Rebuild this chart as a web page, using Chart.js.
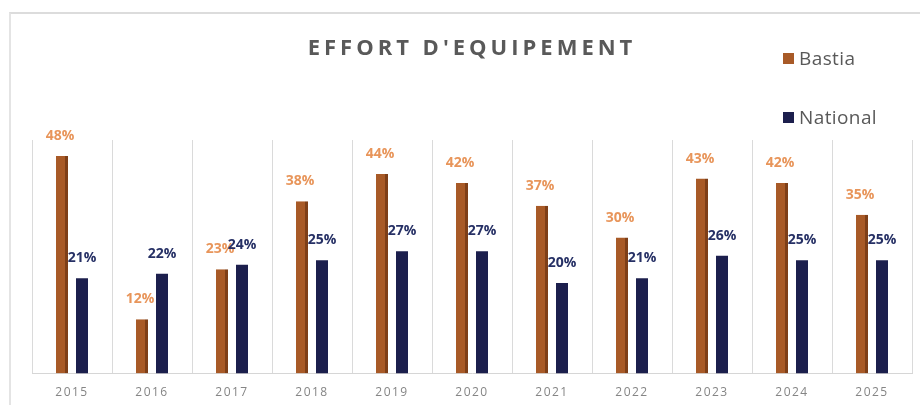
<!DOCTYPE html>
<html>
<head>
<meta charset="utf-8">
<script src="https://cdn.jsdelivr.net/npm/chart.js@4/dist/chart.umd.min.js"></script>
<style>
  html, body { margin: 0; padding: 0; background: #ffffff; }
  #wrap { position: relative; width: 920px; height: 405px; overflow: hidden; }
  #frame { position: absolute; left: 9px; top: 12px; width: 950px; height: 450px;
           border-top: 2px solid #dcdcdc; border-left: 2px solid #e4e4e4; }
  #title { position: absolute; left: 0; width: 944px; top: 31px; text-align: center;
           font: bold 22px "Open Sans", sans-serif; letter-spacing: 4px; color: #595959; }
  .leg { position: absolute; left: 783px; font: 19px "Open Sans", sans-serif; color: #595959;
         letter-spacing: 0.4px; white-space: nowrap; }
  .leg span { display: inline-block; width: 11px; height: 11px; margin-right: 5px; vertical-align: 1px; }
  canvas { position: absolute; left: 0; top: 0; }
</style>
</head>
<body>
<div id="wrap">
  <div id="frame"></div>
  <canvas id="c" width="920" height="417"></canvas>
  <div id="title">EFFORT D'EQUIPEMENT</div>
  <div id="legend"></div>
</div>
<script>
// Effort d'équipement, Bastia vs national, in percent
const years = ['2015', '2016', '2017', '2018', '2019', '2020', '2021', '2022', '2023', '2024', '2025'];
const bastia = [48, 12, 23, 38, 44, 42, 37, 30, 43, 42, 35];
const national = [21, 22, 24, 25, 27, 27, 20, 21, 26, 25, 25];
const seriesNames = ['Bastia', 'National'];

const barColors = ['#a85a27', '#1c1f4d'];
const labelColors = ['#e8955a', '#263065'];

// spaced-out year labels on the category axis
const tickSpacing = {
  id: 'tickSpacing',
  beforeDraw(chart) { chart.ctx.letterSpacing = '1.5px'; },
  beforeDatasetsDraw(chart) { chart.ctx.letterSpacing = '0px'; }
};

// percentage labels drawn above each bar
const valueLabels = {
  id: 'valueLabels',
  afterDatasetsDraw(chart) {
    const ctx = chart.ctx;
    ctx.save();
    ctx.font = 'bold 14px "Open Sans", sans-serif';
    ctx.textAlign = 'center';
    ctx.textBaseline = 'middle';
    chart.data.datasets.forEach((ds, i) => {
      const meta = chart.getDatasetMeta(i);
      ctx.fillStyle = labelColors[i];
      meta.data.forEach((bar, j) => {
        ctx.fillText(ds.data[j] + '%', bar.x - (i === 0 ? 2 : 0), bar.y - 20);
      });
    });
    ctx.restore();
  }
};

const chart = new Chart(document.getElementById('c'), {
  type: 'bar',
  data: {
    labels: years,
    datasets: [
      { label: seriesNames[0], data: bastia, backgroundColor: barColors[0], borderColor: '#7e3f18', borderWidth: { right: 3 } },
      { label: seriesNames[1], data: national, backgroundColor: barColors[1] }
    ]
  },
  options: {
    responsive: false,
    animation: false,
    devicePixelRatio: 1,
    layout: { padding: { left: 32, right: 8, top: 140, bottom: 5 } },
    datasets: { bar: { categoryPercentage: 0.5, barPercentage: 0.6 } },
    plugins: { legend: { display: false }, title: { display: false }, tooltip: { enabled: false } },
    scales: {
      x: {
        grid: { display: true, offset: true, color: '#dadada', drawTicks: false },
        border: { display: true, color: '#d6d6d6' },
        ticks: { color: '#858585', padding: 12, font: { family: '"Open Sans", sans-serif', size: 12 } }
      },
      y: { display: false, min: 0, max: 51.5 }
    }
  },
  plugins: [tickSpacing, valueLabels]
});

// legend built from the dataset names and colours
const legend = document.getElementById('legend');
seriesNames.forEach((name, i) => {
  const d = document.createElement('div');
  d.className = 'leg';
  d.style.top = (45 + i * 59) + 'px';
  d.innerHTML = '<span style="background:' + barColors[i] + '"></span>' + name;
  legend.appendChild(d);
});
</script>
</body>
</html>
